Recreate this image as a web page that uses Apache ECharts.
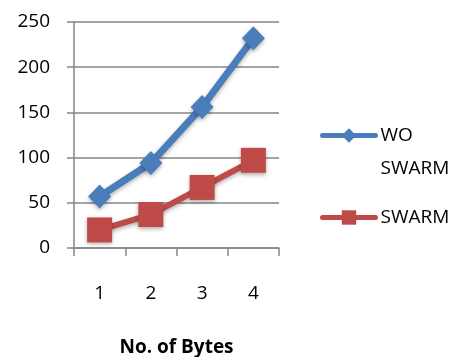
<!DOCTYPE html>
<html><head><meta charset="utf-8">
<script src="https://cdn.jsdelivr.net/npm/echarts@6/dist/echarts.min.js"></script>
<style>html,body{margin:0;padding:0;background:#fff}#c{width:467px;height:357px}</style>
</head><body><div id="c"></div>
<script>
const categories = ['1', '2', '3', '4'];
const woSwarm = [57, 94, 156, 232];
const swarm = [20, 37, 67, 97];
const yTicks = [0, 50, 100, 150, 200, 250];
const seriesNames = ['WO SWARM', 'SWARM'];

const font = '"Open Sans", "Liberation Sans", sans-serif';
const chart = echarts.init(document.getElementById('c'));
chart.setOption({
  animation: false,
  grid: { left: 74, right: 188, top: 22, bottom: 109, containLabel: false, outerBoundsMode: 'none' },
  legend: {
    orient: 'vertical', left: 320, top: 86, padding: 0,
    itemWidth: 53, itemHeight: 18, itemGap: 16,
    formatter: n => n === 'WO SWARM' ? '\u00a0\nWO\nSWARM' : n,
    lineStyle: { width: 5, cap: 'round' },
    textStyle: { fontFamily: font, fontSize: 19, color: '#000', lineHeight: 33 },
    data: seriesNames
  },
  xAxis: {
    type: 'category', data: categories, boundaryGap: true,
    name: 'No. of Bytes', nameLocation: 'middle', nameGap: 90,
    nameTextStyle: { fontFamily: font, fontSize: 19, fontWeight: 'bold', color: '#000' },
    axisLine: { lineStyle: { color: '#868686', width: 1.5 } },
    axisTick: { show: true, length: 8, lineStyle: { color: '#868686', width: 1.5 } },
    axisLabel: { fontFamily: font, fontSize: 19, color: '#000', margin: 36 }
  },
  yAxis: {
    type: 'value', min: yTicks[0], max: yTicks[yTicks.length - 1], interval: 50,
    axisLine: { show: true, lineStyle: { color: '#868686', width: 1.5 } },
    axisTick: { show: true, length: 7, lineStyle: { color: '#868686', width: 1.5 } },
    splitLine: { lineStyle: { color: '#868686', width: 1.5 } },
    axisLabel: { fontFamily: font, fontSize: 19, color: '#000', margin: 24 }
  },
  series: [
    {
      name: seriesNames[0], type: 'line', data: woSwarm,
      symbol: 'diamond', symbolSize: [23, 24],
      lineStyle: { color: '#4a7ebb', width: 7, shadowColor: 'rgba(0,0,0,0.3)', shadowBlur: 4, shadowOffsetY: 2 },
      itemStyle: { color: '#4a7ebb', shadowColor: 'rgba(0,0,0,0.3)', shadowBlur: 4, shadowOffsetY: 2 }
    },
    {
      name: seriesNames[1], type: 'line', data: swarm,
      symbol: 'rect', symbolSize: 25,
      lineStyle: { color: '#be4b48', width: 6, shadowColor: 'rgba(0,0,0,0.3)', shadowBlur: 4, shadowOffsetY: 2 },
      itemStyle: { color: '#be4b48', shadowColor: 'rgba(0,0,0,0.3)', shadowBlur: 4, shadowOffsetY: 2 }
    }
  ]
});
</script></body></html>
